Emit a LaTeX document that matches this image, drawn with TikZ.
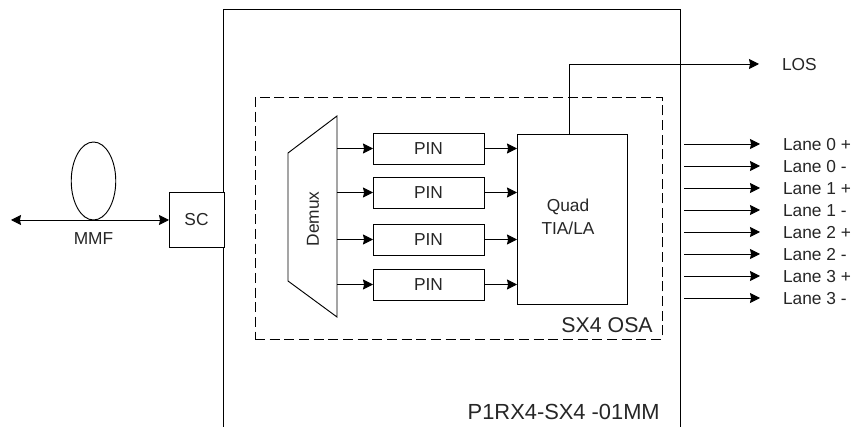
\documentclass[tikz,border=0pt]{standalone}
\usepackage{fontspec}
\setmainfont{Liberation Sans}
\usetikzlibrary{arrows.meta,positioning,shapes.geometric,calc}
\tikzset{
  block/.style={draw,rectangle,line width=0.7pt,inner sep=0pt,outer sep=0pt},
  pinbox/.style={block,minimum width=83.25pt,minimum height=23.25pt},
  sig/.style={-{Stealth[length=7.5pt,width=7.5pt,inset=0.8pt]},line width=0.7pt},
  lane/.style={inner sep=0pt,outer sep=0pt,text height=9.5pt,text depth=0pt},
  lanearrow/.style={sig,shorten >=17.25pt}
}
\begin{document}
\begin{tikzpicture}[x=0.75pt,y=-0.75pt,node distance=7pt,font=\fontsize{13}{15}\selectfont,text=black!85]
      \useasboundingbox (0,0) rectangle (854,427);
      \draw[line width=0.7pt] (223,427) -- (223,9) -- (680,9) -- (680,427);
      \node[block,minimum size=41.25pt,fill=white] (sc) at (196.5,219.5) {SC};
      \node[draw,ellipse,line width=0.7pt,inner sep=0pt,outer sep=0pt,minimum width=33.4pt,minimum height=58.5pt] (loop) at (93.5,181) {};
      \node[below=5.75pt of loop] (mmf) {MMF};
      \coordinate (fiberend) at (11,220);
      \draw[{Stealth[length=7.5pt,width=7.5pt,inset=0.8pt]}-{Stealth[length=7.5pt,width=7.5pt,inset=0.8pt]},line width=0.7pt] (fiberend) -- (fiberend -| sc.west);
      \node[draw,dashed,dash pattern=on 7.5pt off 3.5pt,line width=0.7pt,rectangle,inner sep=0pt,minimum width=305.25pt,minimum height=181.5pt] (osa) at (458.5,218) {};
      \node[anchor=south east,font=\fontsize{16}{18}\selectfont,inner sep=0pt] (osalabel) at (653,333) {SX4 OSA};
      \node[outer sep=0pt,minimum width=36.75pt,minimum height=150.75pt,inner sep=0pt] (demux) at (312.5,216.5) {};
      \draw[line width=0.7pt] (demux.north east) -- ($(demux.north west)+(0,37)$) -- ($(demux.south west)+(0,-36)$) -- (demux.south east) -- cycle;
      \node[rotate=90,inner sep=0pt] (demuxlabel) at (313,219) {Demux};
      \node[pinbox,right=27pt of demux.east,yshift=51pt] (pin1) {PIN};
      \node[pinbox,below=9.75pt of pin1] (pin2) {PIN};
      \node[pinbox,below=12pt of pin2] (pin3) {PIN};
      \node[pinbox,below=10.5pt of pin3] (pin4) {PIN};
      \node[block,minimum width=82.5pt,minimum height=127.5pt,align=center] (quad) at (572,219) {};
      \node[align=center,inner sep=0pt] (quadlabel) at (568,216.5) {Quad\\[2pt]TIA/LA};
      \draw[sig] (demux.east |- pin1) -- (pin1);
      \draw[sig] (demux.east |- pin2) -- (pin2);
      \draw[sig] (demux.east |- pin3) -- (pin3);
      \draw[sig] (demux.east |- pin4) -- (pin4);
      \draw[sig] (pin1) -- (pin1 -| quad.west);
      \draw[sig] (pin2) -- (pin2 -| quad.west);
      \draw[sig] (pin3) -- (pin3 -| quad.west);
      \draw[sig] (pin4) -- (pin4 -| quad.west);
      \node[anchor=west,lane] (los) at (782,64) {LOS};
      \draw[lanearrow] ([xshift=-2.25pt]quad.north) |- (los);
      \coordinate (lanestart) at (684,144);
      \node[anchor=west,lane] (l0p) at (783,144) {Lane 0 +};
      \node[lane,below=of l0p.south west,anchor=north west] (l0n) {Lane 0 -};
      \node[lane,below=of l0n.south west,anchor=north west] (l1p) {Lane 1 +};
      \node[lane,below=of l1p.south west,anchor=north west] (l1n) {Lane 1 -};
      \node[lane,below=of l1n.south west,anchor=north west] (l2p) {Lane 2 +};
      \node[lane,below=of l2p.south west,anchor=north west] (l2n) {Lane 2 -};
      \node[lane,below=of l2n.south west,anchor=north west] (l3p) {Lane 3 +};
      \node[lane,below=of l3p.south west,anchor=north west] (l3n) {Lane 3 -};
      \draw[lanearrow] (lanestart |- l0p) -- (l0p);
      \draw[lanearrow] (lanestart |- l0n) -- (l0n);
      \draw[lanearrow] (lanestart |- l1p) -- (l1p);
      \draw[lanearrow] (lanestart |- l1n) -- (l1n);
      \draw[lanearrow] (lanestart |- l2p) -- (l2p);
      \draw[lanearrow] (lanestart |- l2n) -- (l2n);
      \draw[lanearrow] (lanestart |- l3p) -- (l3p);
      \draw[lanearrow] (lanestart |- l3n) -- (l3n);
      \node[anchor=south east,font=\fontsize{16.4}{18}\selectfont,inner sep=0pt] (modulelabel) at (660,420) {P1RX4-SX4 -01MM};
    \end{tikzpicture}
\end{document}
